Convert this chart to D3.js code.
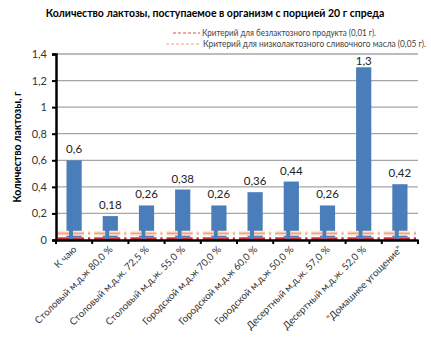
<!DOCTYPE html>
<html><head><meta charset="utf-8">
<script src="https://cdn.jsdelivr.net/npm/d3@7"></script>
<style>body{margin:0;background:#fff}svg{display:block}text{font-family:Lato,"Open Sans",sans-serif}</style>
</head><body><svg id="c" width="431" height="337"></svg>
<script>
const categories = ["К чаю","Столовый м.д.ж 80,0 %","Столовый м.д.ж. 72,5 %","Столовый м.д.ж. 55,0 %","Городской м.д.ж 70,0 %","Городской м.д.ж 60,0 %","Городской м.д.ж 50,0 %","Десертный м.д.ж. 57,0 %","Десертный м.д.ж. 52,0 %","\"Домашнее угощение\""];
const values = [0.6,0.18,0.26,0.38,0.26,0.36,0.44,0.26,1.3,0.42];
const valueLabels = ["0,6","0,18","0,26","0,38","0,26","0,36","0,44","0,26","1,3","0,42"];
const lactoseFree = [0.01,0.01,0.01,0.01,0.01,0.01,0.01,0.01,0.01,0.01];
const lowLactose = [0.05,0.05,0.05,0.05,0.05,0.05,0.05,0.05,0.05,0.05];
const yTicks = [0,0.2,0.4,0.6,0.8,1,1.2,1.4];
const yTickLabels = ["0","0,2","0,4","0,6","0,8","1","1,2","1,4"];
const title = "Количество лактозы, поступаемое в организм с порцией 20 г спреда";
const yTitle = "Количество лактозы, г";
const legendLabels = ["Критерий для безлактозного продукта (0,01 г).","Критерий для низколактозного сливочного масла (0,05 г)."];

const svg = d3.select("#c");
const L=56, R=418, T=54, B=240;
const x = d3.scaleBand().domain(categories).range([L,R]).paddingInner(0.58).paddingOuter(0.29);
const xb = d3.scaleBand().domain(categories).range([L,R]);
const y = d3.scaleLinear().domain([0,1.4]).range([B,T]);

// gridlines
svg.append("g").selectAll("line").data(yTicks.slice(1)).join("line")
  .attr("x1",L).attr("x2",R).attr("y1",d=>y(d)).attr("y2",d=>y(d))
  .attr("stroke","#a6a6a6").attr("stroke-width",1.3);

// bars
svg.append("g").selectAll("rect").data(values).join("rect")
  .attr("x",(d,i)=>x(categories[i])).attr("width",x.bandwidth())
  .attr("y",d=>y(d)).attr("height",d=>B-y(d)).attr("fill","#4a7ebb");

// criterion lines per category band
const lineGen = d3.line().x(d=>d[0]).y(d=>d[1]);
function critLine(data,color,halo,w,hw){
  data.forEach((v,i)=>{
    const x0=xb(categories[i])+2, x1=xb(categories[i])+xb.bandwidth()-2;
    if(halo) svg.append("path").attr("d",lineGen([[x0,y(v)],[x1,y(v)]])).attr("stroke",halo).attr("stroke-width",hw).attr("fill","none").attr("stroke-dasharray","11,4");
    svg.append("path").attr("d",lineGen([[x0,y(v)],[x1,y(v)]])).attr("stroke",color).attr("stroke-width",w).attr("fill","none").attr("stroke-dasharray","11,4");
  });
}
critLine(lowLactose,"#f4a27a","#fde6da",1.8,5);
critLine(lactoseFree,"#c9303e","#eda3a7",2.2,3.5);

// y axis
const yAxis = svg.append("g").attr("transform",`translate(${L},0)`)
  .call(d3.axisLeft(y).tickValues(yTicks).tickFormat((d,i)=>yTickLabels[i]).tickSize(4).tickPadding(5));
yAxis.select(".domain").attr("stroke","#000").attr("stroke-width",2.5);
yAxis.selectAll(".tick line").attr("stroke","#000").attr("stroke-width",2);
yAxis.selectAll("text").attr("font-size",11).attr("fill","#333").style("font-family","Lato,sans-serif");

// x axis
const xAxis = svg.append("g").attr("transform",`translate(0,${B})`)
  .call(d3.axisBottom(xb).tickSize(0).tickFormat(""));
xAxis.select(".domain").attr("stroke","#000").attr("stroke-width",2.5);
svg.append("g").selectAll("line").data(categories.concat(["__end"])).join("line")
  .attr("x1",(d,i)=>L+i*xb.bandwidth()).attr("x2",(d,i)=>L+i*xb.bandwidth())
  .attr("y1",B).attr("y2",B+4).attr("stroke","#000").attr("stroke-width",2);
svg.append("g").selectAll("text").data(categories).join("text")
  .attr("transform",d=>`translate(${xb(d)+xb.bandwidth()/2+3},${B+10}) rotate(-45)`)
  .attr("text-anchor","end").attr("font-size",9.8).attr("fill","#333").text(d=>d);

// value labels
svg.append("g").selectAll("text").data(values).join("text")
  .attr("x",(d,i)=>x(categories[i])+x.bandwidth()/2).attr("y",d=>Math.max(y(d)-7,T+11))
  .attr("text-anchor","middle").attr("font-size",11.5).attr("fill","#222").text((d,i)=>valueLabels[i]);

// titles
svg.append("text").attr("x",215).attr("y",17).attr("text-anchor","middle").attr("font-size",10.5).attr("font-weight","bold").attr("fill","#000").text(title);
svg.append("text").attr("transform",`translate(21,${(T+B)/2}) rotate(-90)`).attr("text-anchor","middle").attr("font-size",10.5).attr("font-weight","bold").attr("fill","#000").text(yTitle);

// legend
const lg = [{x0:173,x1:200,y:33,c:"#d9534f",w:174},{x0:166,x1:201,y:44,c:"#f4a27a",w:223}];
lg.forEach((l,i)=>{
  svg.append("line").attr("x1",l.x0).attr("x2",l.x1).attr("y1",l.y).attr("y2",l.y).attr("stroke",l.c).attr("stroke-width",1).attr("stroke-dasharray","3,2");
  svg.append("text").attr("x",l.x1+2).attr("y",l.y+3).attr("font-size",8.5).attr("fill","#444")
    .attr("textLength",l.w).attr("lengthAdjust","spacingAndGlyphs").text(legendLabels[i]);
});
</script></body></html>
